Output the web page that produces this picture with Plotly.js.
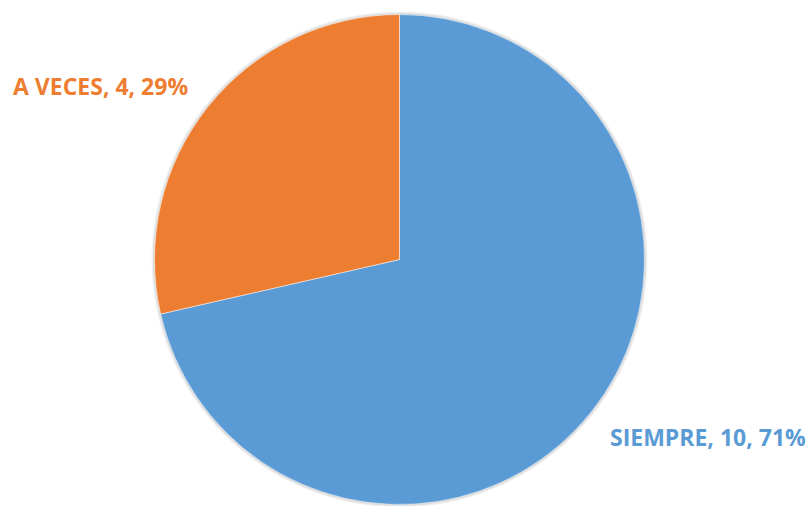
<!DOCTYPE html>
<html>
<head>
<meta charset="utf-8">
<script src="https://cdn.plot.ly/plotly-3.0.1.min.js"></script>
<style>html,body{margin:0;padding:0;background:#fff;}#chart{width:812px;height:506px;}</style>
</head>
<body>
<div id="chart"></div>
<script>
const categories = ["SIEMPRE", "A VECES"];
const values = [10, 4];
const colors = ["#5B9BD5", "#ED7D31"];

const total = values.reduce((a, b) => a + b, 0);
const labelPos = [
  {x: 708 / 812, y: 1 - 437 / 506},
  {x: 100 / 812, y: 1 - 86 / 506}
];

const annotations = categories.map((c, i) => ({
  text: c + ", " + values[i] + ", " + Math.round(values[i] / total * 100) + "%",
  x: labelPos[i].x, y: labelPos[i].y, xref: "paper", yref: "paper",
  xanchor: "center", yanchor: "middle", showarrow: false,
  font: {family: "Open Sans, sans-serif", size: 23, color: colors[i], weight: "bold"}
}));

const data = [{
  type: "pie",
  labels: categories,
  values: values,
  sort: false,
  direction: "clockwise",
  rotation: 0,
  marker: {colors: colors, line: {color: "#ffffff", width: 0.5}},
  textinfo: "none",
  hoverinfo: "label+value+percent",
  domain: {x: [154.5 / 812, 644.5 / 812], y: [1.5 / 506, 491.5 / 506]},
  showlegend: false
}];

const shadows = [3, 2, 1].map((d, k) => ({
  type: "circle", layer: "below", xref: "paper", yref: "paper",
  x0: (154.5 - d) / 812, x1: (644.5 + d) / 812,
  y0: (1.5 - d) / 506, y1: (491.5 + d) / 506,
  fillcolor: "rgba(0,0,0,0.05)", line: {width: 0}
}));

const layout = {
  width: 812, height: 506,
  margin: {l: 0, r: 0, t: 0, b: 0},
  paper_bgcolor: "#ffffff",
  showlegend: false,
  annotations: annotations,
  shapes: shadows
};

Plotly.newPlot("chart", data, layout, {displayModeBar: false, staticPlot: true});
</script>
</body>
</html>
